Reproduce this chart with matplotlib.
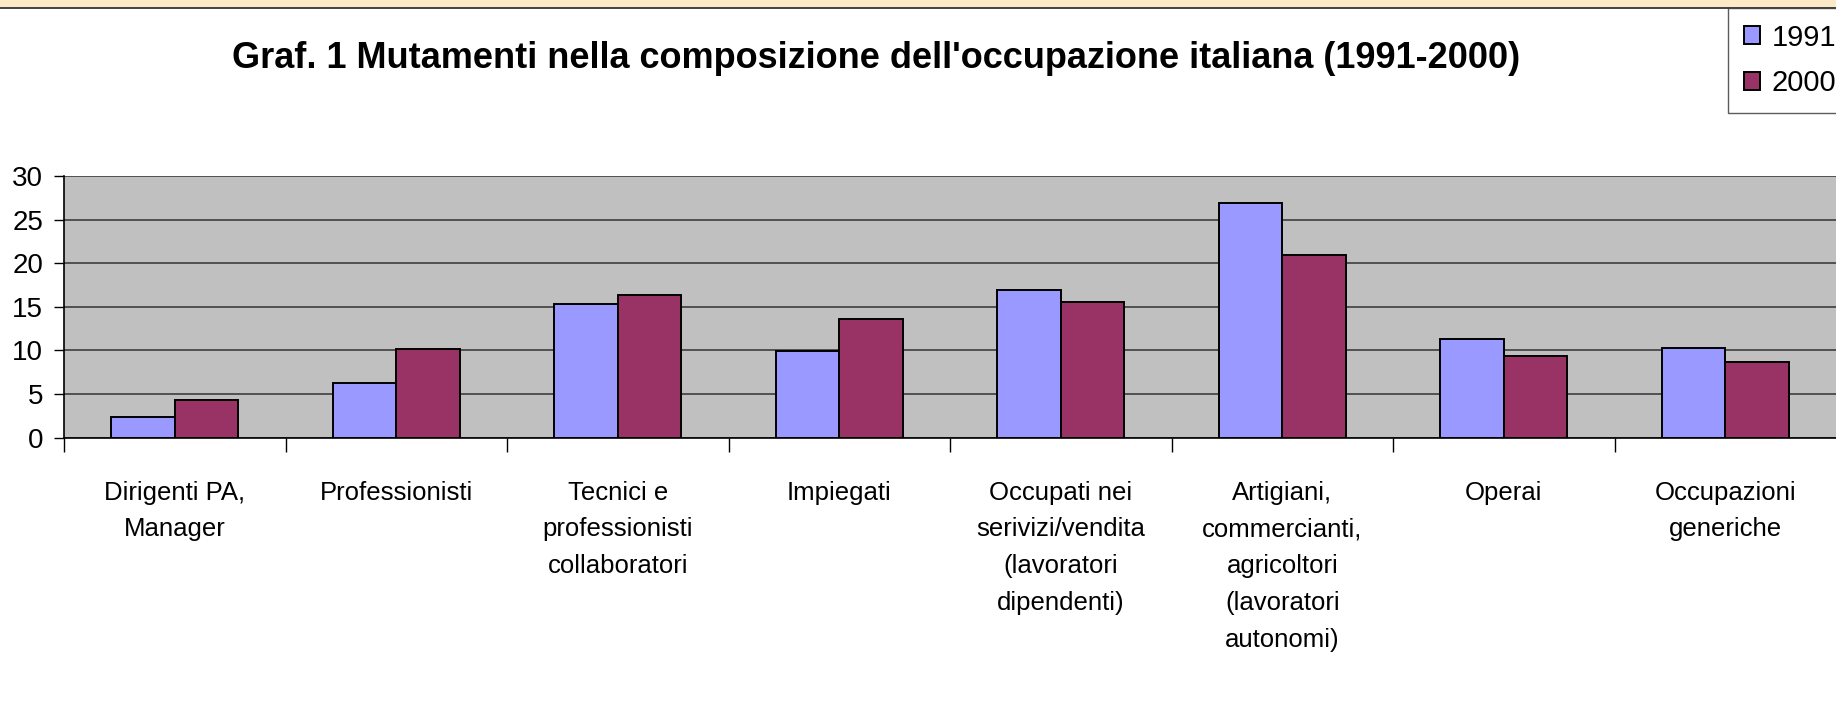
import matplotlib
matplotlib.use("Agg")
import matplotlib.pyplot as plt
from matplotlib.patches import Rectangle
from matplotlib.lines import Line2D
import numpy as np

# Data
categories = [
    "Dirigenti PA,\nManager",
    "Professionisti",
    "Tecnici e\nprofessionisti\ncollaboratori",
    "Impiegati",
    "Occupati nei\nserivizi/vendita\n(lavoratori\ndipendenti)",
    "Artigiani,\ncommercianti,\nagricoltori\n(lavoratori\nautonomi)",
    "Operai",
    "Occupazioni\ngeneriche",
]
values_1991 = [2.3, 6.2, 15.3, 9.9, 16.9, 26.9, 11.3, 10.3]
values_2000 = [4.3, 10.2, 16.3, 13.6, 15.6, 20.9, 9.3, 8.7]
series_labels = ["1991", "2000"]
y_ticks = [0, 5, 10, 15, 20, 25, 30]
title = "Graf. 1 Mutamenti nella composizione dell'occupazione italiana (1991-2000)"

plt.rcParams["font.family"] = ["Liberation Sans", "DejaVu Sans"]

W, H = 1836, 722
fig = plt.figure(figsize=(W / 100, H / 100), dpi=100)
fig.patch.set_facecolor("white")

# beige strip at top
fig.add_artist(Rectangle((0, 1 - 7 / H), 1, 7 / H, transform=fig.transFigure,
                         facecolor="#FCE9C6", edgecolor="none", zorder=0))
fig.add_artist(Line2D([0, 1], [1 - 7.5 / H, 1 - 7.5 / H], transform=fig.transFigure,
                      color="#222222", lw=1.2))

ax = fig.add_axes([64 / W, 1 - 437.5 / H, 1 - 64 / W, (437.5 - 176) / H])
ax.set_facecolor("#C0C0C0")

x = np.arange(len(categories))
bw = 1 / 3.5
ax.bar(x - bw / 2, values_1991, bw, color="#9999FF", edgecolor="black",
       linewidth=1.4, label=series_labels[0], zorder=3)
ax.bar(x + bw / 2, values_2000, bw, color="#993366", edgecolor="black",
       linewidth=1.4, label=series_labels[1], zorder=3)

ax.set_xlim(-0.5, len(categories) - 0.5)
ax.set_ylim(0, 30)
ax.set_yticks(y_ticks)
ax.set_yticklabels([str(t) for t in y_ticks], fontsize=20)
ax.yaxis.grid(True, color="#333333", linewidth=1.1)
ax.set_axisbelow(True)

ax.set_xticks(x)
ax.set_xticklabels(categories, fontsize=18.5, linespacing=1.68, va="top")
ax.tick_params(axis="x", length=0, pad=31)
ax.set_xticks(np.arange(len(categories)) - 0.5, minor=True)
ax.tick_params(axis="x", which="minor", length=10, width=1.0, color="black", direction="out")
ax.tick_params(axis="y", length=7, width=1.0, pad=8)

for s in ["top", "right"]:
    ax.spines[s].set_visible(False)
for s in ["left", "bottom"]:
    ax.spines[s].set_color("black")
    ax.spines[s].set_linewidth(1.2)

fig.text(876 / W, 1 - 58 / H, title, ha="center", va="center",
         fontsize=26, fontweight="bold")

leg = fig.legend(loc="upper left", bbox_to_anchor=(1728 / W, 1 - 7.5 / H),
                 fontsize=21, frameon=True, fancybox=False, borderpad=0.55,
                 handlelength=0.55, handleheight=0.55, handletextpad=0.4,
                 labelspacing=0.6, borderaxespad=0)
leg.get_frame().set_edgecolor("#333333")
leg.get_frame().set_linewidth(1.0)

fig.savefig("out.png", dpi=100)
